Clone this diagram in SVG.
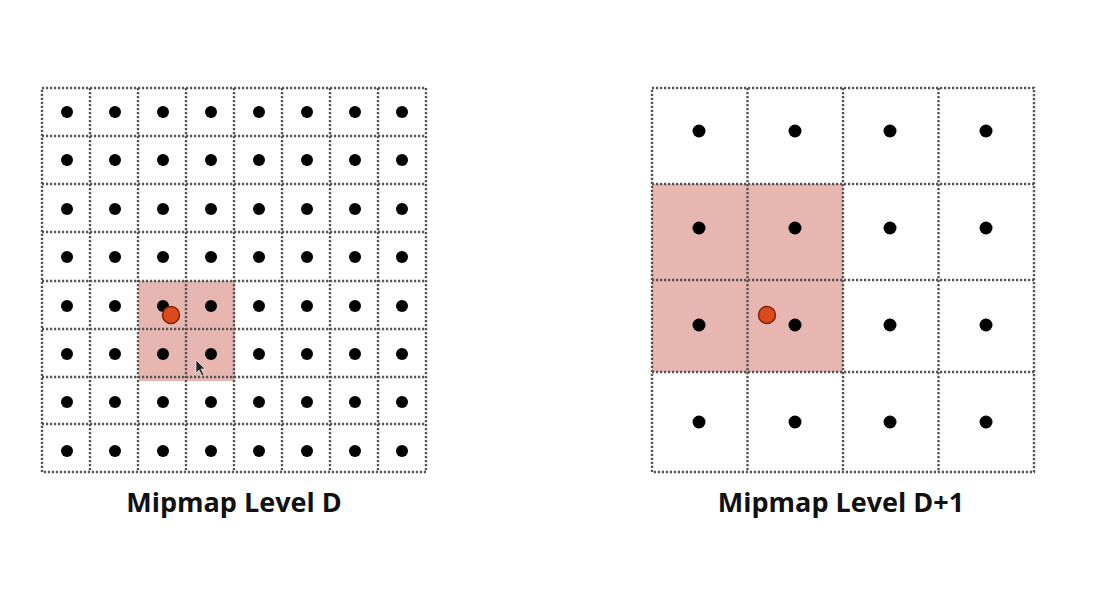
<svg xmlns="http://www.w3.org/2000/svg" width="1116" height="601" viewBox="0 0 1116 601">
<style>
.grid{fill:none;stroke:#555;stroke-width:2.4;stroke-dasharray:2.2 1.8}
.dot{fill:#000}
.hl{fill:#e7b6b1}
.sample{fill:#dc4a1c;stroke:#7a2410;stroke-width:1.5}
.lbl{font-family:"Open Sans",Lato,sans-serif;font-weight:bold;font-size:27px;fill:#111;text-anchor:middle}
</style>
<rect width="1116" height="601" fill="#fff"/>
<g id="levelD">
<rect class="hl" x="138.5" y="281" width="96.5" height="100"/>
<g class="grid">
<rect x="42" y="88" width="384" height="384"/>
<path d="M90 88V472M138 88V472M186 88V472M234 88V472M282 88V472M330 88V472M378 88V472M42 136H426M42 184H426M42 232H426M42 281H426M42 329H426M42 377H426M42 424H426"/>
</g>
<g id="dotsD" class="dot">
<g><circle cx="67" cy="112" r="6"/><circle cx="115" cy="112" r="6"/><circle cx="163" cy="112" r="6"/><circle cx="211" cy="112" r="6"/><circle cx="259" cy="112" r="6"/><circle cx="307" cy="112" r="6"/><circle cx="355" cy="112" r="6"/><circle cx="402" cy="112" r="6"/></g>
<g><circle cx="67" cy="160" r="6"/><circle cx="115" cy="160" r="6"/><circle cx="163" cy="160" r="6"/><circle cx="211" cy="160" r="6"/><circle cx="259" cy="160" r="6"/><circle cx="307" cy="160" r="6"/><circle cx="355" cy="160" r="6"/><circle cx="402" cy="160" r="6"/></g>
<g><circle cx="67" cy="209" r="6"/><circle cx="115" cy="209" r="6"/><circle cx="163" cy="209" r="6"/><circle cx="211" cy="209" r="6"/><circle cx="259" cy="209" r="6"/><circle cx="307" cy="209" r="6"/><circle cx="355" cy="209" r="6"/><circle cx="402" cy="209" r="6"/></g>
<g><circle cx="67" cy="257" r="6"/><circle cx="115" cy="257" r="6"/><circle cx="163" cy="257" r="6"/><circle cx="211" cy="257" r="6"/><circle cx="259" cy="257" r="6"/><circle cx="307" cy="257" r="6"/><circle cx="355" cy="257" r="6"/><circle cx="402" cy="257" r="6"/></g>
<g><circle cx="67" cy="306" r="6"/><circle cx="115" cy="306" r="6"/><circle cx="163" cy="306" r="6"/><circle cx="211" cy="306" r="6"/><circle cx="259" cy="306" r="6"/><circle cx="307" cy="306" r="6"/><circle cx="355" cy="306" r="6"/><circle cx="402" cy="306" r="6"/></g>
<g><circle cx="67" cy="354" r="6"/><circle cx="115" cy="354" r="6"/><circle cx="163" cy="354" r="6"/><circle cx="211" cy="354" r="6"/><circle cx="259" cy="354" r="6"/><circle cx="307" cy="354" r="6"/><circle cx="355" cy="354" r="6"/><circle cx="402" cy="354" r="6"/></g>
<g><circle cx="67" cy="402" r="6"/><circle cx="115" cy="402" r="6"/><circle cx="163" cy="402" r="6"/><circle cx="211" cy="402" r="6"/><circle cx="259" cy="402" r="6"/><circle cx="307" cy="402" r="6"/><circle cx="355" cy="402" r="6"/><circle cx="402" cy="402" r="6"/></g>
<g><circle cx="67" cy="451" r="6"/><circle cx="115" cy="451" r="6"/><circle cx="163" cy="451" r="6"/><circle cx="211" cy="451" r="6"/><circle cx="259" cy="451" r="6"/><circle cx="307" cy="451" r="6"/><circle cx="355" cy="451" r="6"/><circle cx="402" cy="451" r="6"/></g>
</g>
<circle class="sample" cx="171" cy="315" r="8.5"/>
<path d="M196 360 L196 373 L199 370 L202 376 L204 375 L201 369 L205 369 Z" fill="#222" stroke="#fff" stroke-width="0.6"/>
<text class="lbl" x="234" y="512">Mipmap Level D</text>
</g>
<g id="levelD1">
<rect class="hl" x="652" y="184" width="191" height="188"/>
<g class="grid">
<rect x="652" y="88" width="382" height="384"/>
<path d="M747.5 88V472M843 88V472M938.5 88V472M652 184H1034M652 280H1034M652 372H1034"/>
</g>
<g class="dot">
<circle cx="699" cy="131" r="6.5"/><circle cx="795" cy="131" r="6.5"/><circle cx="890" cy="131" r="6.5"/><circle cx="986" cy="131" r="6.5"/>
<circle cx="699" cy="228" r="6.5"/><circle cx="795" cy="228" r="6.5"/><circle cx="890" cy="228" r="6.5"/><circle cx="986" cy="228" r="6.5"/>
<circle cx="699" cy="325" r="6.5"/><circle cx="795" cy="325" r="6.5"/><circle cx="890" cy="325" r="6.5"/><circle cx="986" cy="325" r="6.5"/>
<circle cx="699" cy="422" r="6.5"/><circle cx="795" cy="422" r="6.5"/><circle cx="890" cy="422" r="6.5"/><circle cx="986" cy="422" r="6.5"/>
</g>
<circle class="sample" cx="767" cy="315" r="8.5"/>
<text class="lbl" x="841" y="512">Mipmap Level D+1</text>
</g>
</svg>
